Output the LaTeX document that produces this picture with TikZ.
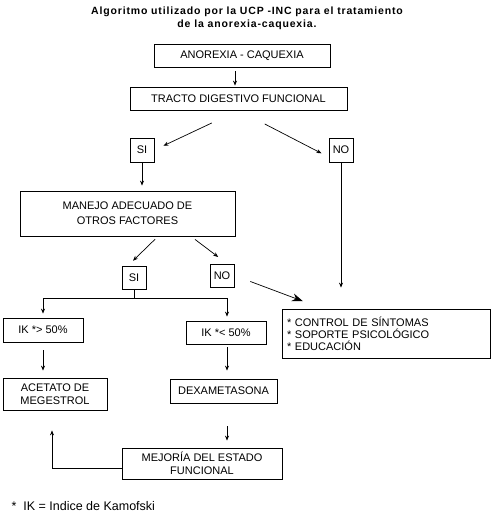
\documentclass[tikz,border=0pt]{standalone}
\usepackage{fontspec}
\setmainfont{Liberation Sans}
\newfontfamily\titlefont[LetterSpace=8]{Liberation Sans}
\usepackage{tikz}
\usetikzlibrary{arrows.meta}
\usetikzlibrary{calc}

\tikzset{
	box/.style={draw,line width=0.8pt,inner sep=0pt,align=center,font=\fontsize{11}{13}\selectfont},
	arr/.style={-{Stealth[length=5pt,width=4pt]},line width=0.7pt},
	bigarr/.style={-{Stealth[length=11pt,width=8pt]},line width=0.7pt},
}

\begin{document}
\begin{tikzpicture}[x=1pt,y=-1pt]
	\useasboundingbox (0,0) rectangle (497,519);
	\node[font=\titlefont\bfseries\fontsize{10.5}{13}\selectfont,align=center] (title) at (247,18.5)
	{Algoritmo utilizado por la UCP -INC para el tratamiento\\de la anorexia-caquexia.};
	
	\node[box,minimum width=176,minimum height=23] (anorexia) at (242,55.5) {ANOREXIA - CAQUEXIA};
	\node[box,minimum width=217,minimum height=23] (tracto) at (238.5,98.5) {TRACTO DIGESTIVO FUNCIONAL};
	\node[box,minimum width=24,minimum height=24] (si1) at (142,150) {SI};
	\node[box,minimum width=24,minimum height=24] (no1) at (341,150) {NO};
	\node[box,minimum width=215,minimum height=45] (manejo) at (127.5,213.5) {MANEJO ADECUADO DE\\[2pt]OTROS FACTORES};
	\node[box,minimum width=24,minimum height=23] (si2) at (134,277.5) {SI};
	\node[box,minimum width=24,minimum height=23] (no2) at (222,275.5) {NO};
	\node[box,minimum width=80,minimum height=24] (ik1) at (43,330) {IK *> 50\%};
	\node[box,minimum width=80,minimum height=23] (ik2) at (226,332.5) {IK *< 50\%};
	\node[box,minimum width=208,minimum height=49,text width=198,align=left,inner sep=5pt,
	font=\fontsize{11}{12}\selectfont] (control) at (386,333.5)
	{* CONTROL DE SÍNTOMAS\\{*} SOPORTE PSICOLÓGICO\\{*} EDUCACIÓN};
	\node[box,minimum width=104,minimum height=32] (acetato) at (55,394) {ACETATO DE\\MEGESTROL};
	\node[box,minimum width=107,minimum height=24] (dexa) at (223.5,391) {DEXAMETASONA};
	\node[box,minimum width=160,minimum height=31] (mejoria) at (202,463.5) {MEJORÍA DEL ESTADO\\FUNCIONAL};
	\node[right,font=\fontsize{12.5}{15}\selectfont] (note) at (8,506) {*\ \ IK = Indice de Kamofski};
	
	% connectors
	\draw[arr,shorten <=4pt,shorten >=1pt] ([xshift=-7pt]anorexia.south) -- ([xshift=-3.5pt]tracto.north);
	\draw[arr,shorten <=29.5pt,shorten >=10pt] (tracto.south) -- (si1.east);
	\draw[arr,shorten <=29.5pt,shorten >=8pt] (tracto.south) -- ([yshift=-7pt]no1.west);
	\draw[arr,shorten >=5pt] (si1.south) -- (si1.south |- manejo.north);
	\draw[arr,shorten >=21pt] (no1.south) -- (no1.south |- control.north);
	\draw[arr,shorten <=4pt,shorten >=7pt] ([xshift=30.5pt]manejo.south) -- ([xshift=-6pt]si2.north);
	\draw[arr,shorten <=5pt,shorten >=11pt] ([xshift=63.5pt]manejo.south) -- ([xshift=5pt]no2.north);
	\draw[bigarr,shorten <=17pt,shorten >=21pt] (no2.east) -- ([xshift=41pt]control.north west);
	
	\coordinate (fork) at ($(si2.south)+(0,9)$);
	\draw[line width=0.7pt] (si2.south) -- (fork);
	\draw[arr,shorten >=4pt] (fork) -| (ik1.north);
	\draw[arr,shorten >=4pt] (fork) -| ([xshift=1pt]ik2.north);
	
	\draw[arr,shorten <=8pt,shorten >=7pt] (ik1.south) -- (ik1.south |- acetato.north);
	\draw[arr,shorten <=3pt,shorten >=8pt] ([xshift=1pt]ik2.south) -- ([xshift=1pt]ik2.south |- dexa.north);
	\draw[arr,shorten <=23pt,shorten >=7pt] ([xshift=3.5pt]dexa.south) -- ([xshift=3.5pt]dexa.south |- mejoria.north);
	\draw[arr,shorten >=20pt] ([yshift=-4.5pt]mejoria.west) -| ([xshift=-3pt]acetato.south);
\end{tikzpicture}
\end{document}
